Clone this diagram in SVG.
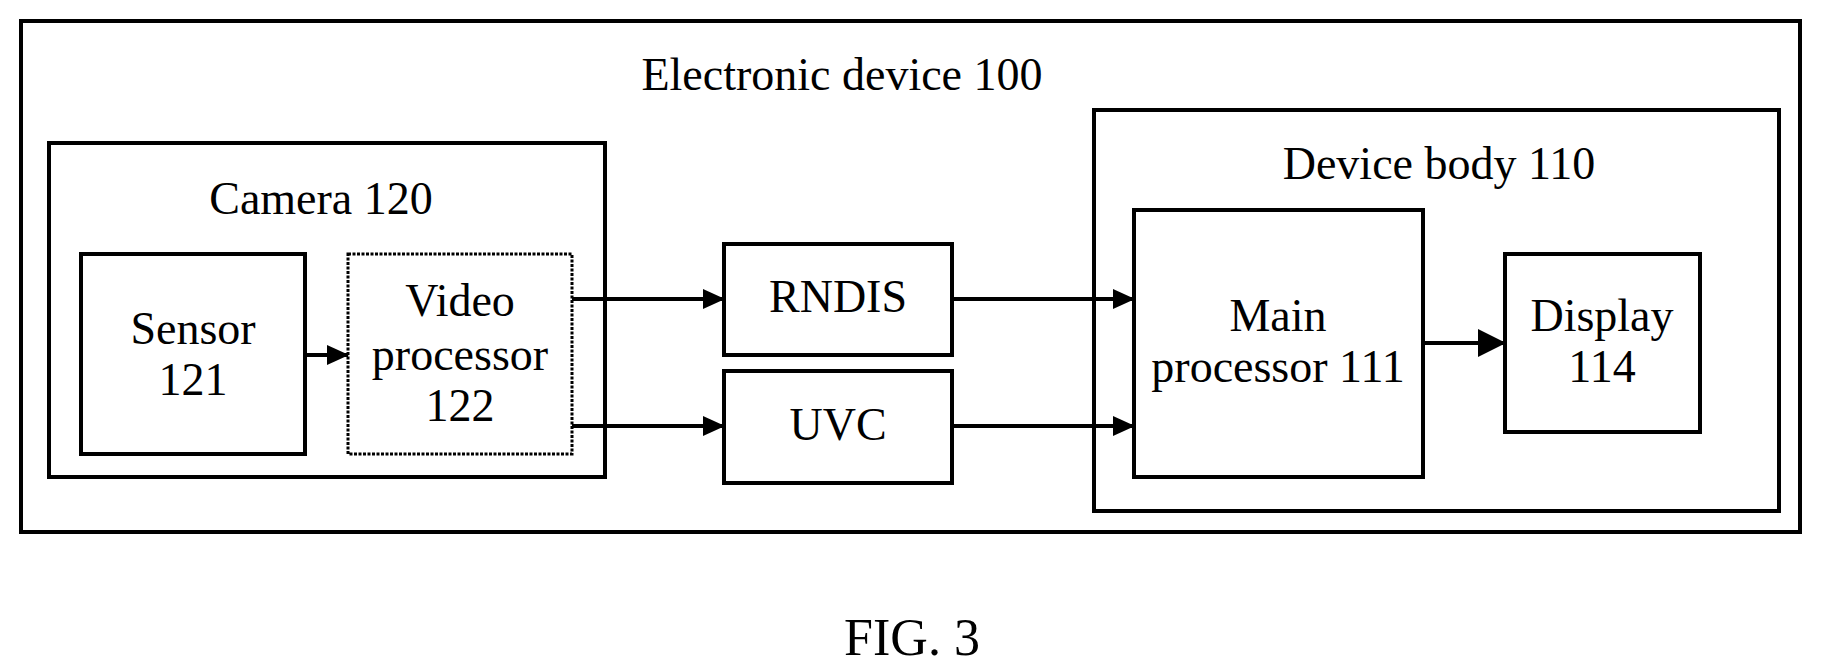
<svg xmlns="http://www.w3.org/2000/svg" width="1822" height="667" viewBox="0 0 1822 667" font-family="'Liberation Serif', 'Times New Roman', 'DejaVu Serif', serif">
<style>
rect{fill:none;stroke:#000;stroke-width:4}
rect.d{stroke-dasharray:3 1.5;stroke-width:3}
text{font-family:'Liberation Serif','Times New Roman','DejaVu Serif',serif;font-size:46px;text-anchor:middle;fill:#000}
line{stroke:#000;stroke-width:4}
</style>
<defs>
<marker id="a" markerUnits="userSpaceOnUse" markerWidth="22" markerHeight="20" refX="21" refY="10" orient="auto"><path d="M0,0L22,10L0,20z" fill="#000"/></marker>
<marker id="b" markerUnits="userSpaceOnUse" markerWidth="28" markerHeight="28" refX="27" refY="14" orient="auto"><path d="M0,0L28,14L0,28z" fill="#000"/></marker>
</defs>
<g id="device100"><rect x="21" y="21" width="1779" height="511"/><text x="842" y="90">Electronic device 100</text></g>
<g id="camera120"><rect x="49" y="143" width="556" height="334"/><text x="321" y="214">Camera 120</text></g>
<g id="sensor121"><rect x="81" y="254" width="224" height="200"/><text x="193" y="344">Sensor</text><text x="193" y="395">121</text></g>
<g id="video122"><rect class="d" x="348" y="254" width="224" height="200"/><text x="460" y="316">Video</text><text x="460" y="370">processor</text><text x="460" y="421">122</text></g>
<g id="rndis"><rect x="724" y="244" width="228" height="111"/><text x="838" y="312">RNDIS</text></g>
<g id="uvc"><rect x="724" y="371" width="228" height="112"/><text x="838" y="440">UVC</text></g>
<g id="body110"><rect x="1094" y="110" width="685" height="401"/><text x="1439" y="179">Device body 110</text></g>
<g id="main111"><rect x="1134" y="210" width="289" height="267"/><text x="1278" y="331">Main</text><text x="1278" y="382">processor 111</text></g>
<g id="display114"><rect x="1505" y="254" width="195" height="178"/><text x="1602" y="331">Display</text><text x="1602" y="382">114</text></g>
<g id="connectors">
<line x1="305" y1="355" x2="348" y2="355" marker-end="url(#a)"/>
<line x1="572" y1="299" x2="724" y2="299" marker-end="url(#a)"/>
<line x1="572" y1="426" x2="724" y2="426" marker-end="url(#a)"/>
<line x1="952" y1="299" x2="1134" y2="299" marker-end="url(#a)"/>
<line x1="952" y1="426" x2="1134" y2="426" marker-end="url(#a)"/>
<line x1="1423" y1="343" x2="1505" y2="343" marker-end="url(#b)"/>
</g>
<text x="912" y="655" style="font-size:52px">FIG. 3</text>
</svg>
